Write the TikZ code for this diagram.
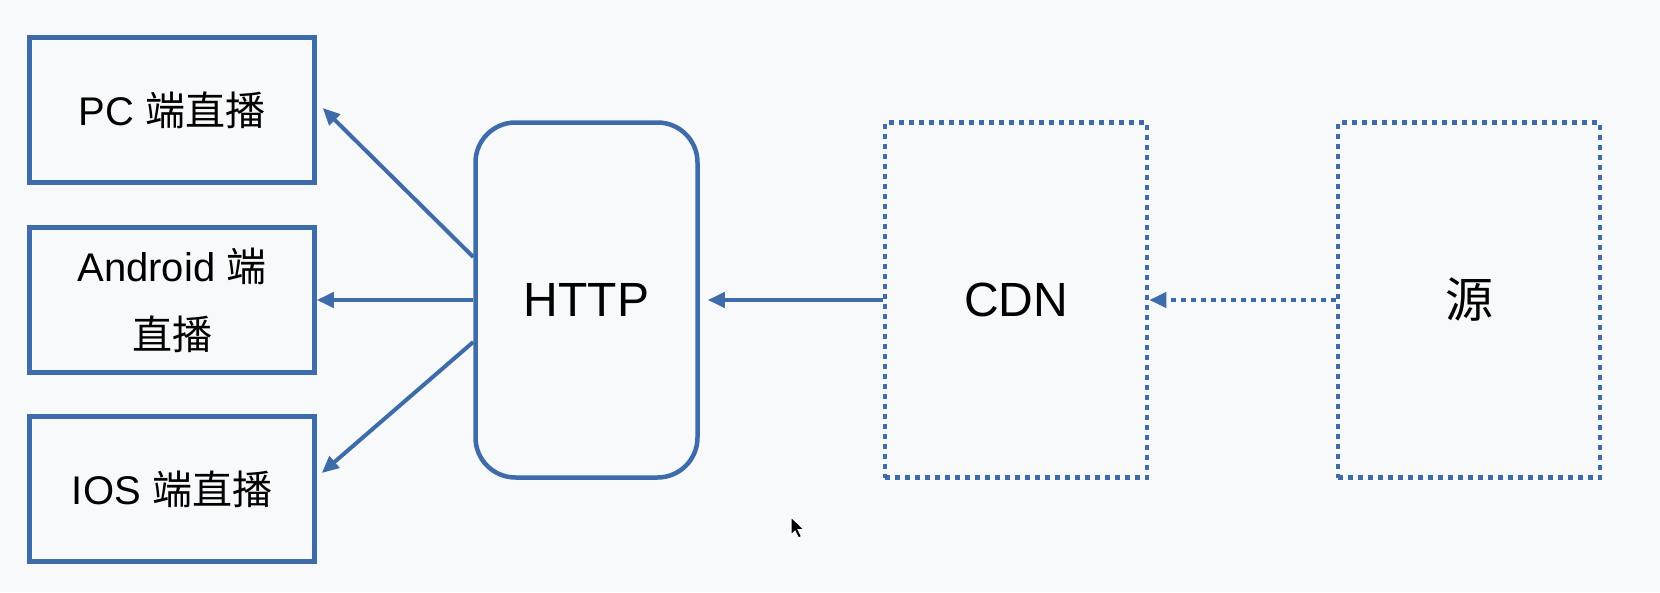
\documentclass[tikz,border=0pt]{standalone}
\usepackage{fontspec}
\setmainfont{Liberation Sans}
\newfontfamily\cjk{Noto Sans CJK SC}
\usetikzlibrary{arrows.meta,calc}
\definecolor{bg}{RGB}{248,249,250}
\definecolor{ln}{RGB}{62,108,170}
\tikzset{
  clientbox/.style={draw=ln, line width=4.5pt, minimum width=285pt, minimum height=145pt,
    inner sep=0pt, align=center, font=\fontsize{40}{68}\selectfont},
  bigbox/.style={draw=ln, line width=4.5pt, minimum width=262pt, minimum height=355pt,
    inner sep=0pt, align=center, font=\fontsize{48}{56}\selectfont},
  dotbox/.style={bigbox, dash pattern=on 5pt off 5pt},
  conn/.style={draw=ln, line width=4pt, -{Triangle[length=17pt,width=15pt]}},
  dotconn/.style={conn, dash pattern=on 5pt off 5pt}
}
\begin{document}
\begin{tikzpicture}[x=1pt,y=-1pt]
\useasboundingbox (0,0) rectangle (1660,592);
\fill[bg] (0,0) rectangle (1660,592);

\node[clientbox] (pc) at (172,110) {PC {\cjk 端直播}};
\node[clientbox] (android) at (172,300) {Android {\cjk 端}\\{\cjk 直播}};
\node[clientbox] (ios) at (172,489) {IOS {\cjk 端直播}};

\node[bigbox, minimum width=222pt, rounded corners=40pt] (http) at (586.5,300) {HTTP};
\node[dotbox] (cdn) at (1016,300) {CDN};
\node[dotbox] (src) at (1469,300) {\cjk 源};

\coordinate (h1) at ($(http.west)+(0,-43)$);
\coordinate (h3) at ($(http.west)+(0,42)$);
\coordinate (pcend) at ($(pc.east)+(6,-2)$);
\coordinate (iosend) at ($(ios.east)+(5,-16)$);

\draw[conn] (h1) -- (pcend);
\draw[conn] (http.west) -- (android.east);
\draw[conn] (h3) -- (iosend);
\draw[conn, shorten >=8pt] (cdn.west) -- (http.east);
\draw[dotconn] (src.west) -- (cdn.east);

% mouse cursor
\filldraw[fill=black, draw=white, line width=1pt] (791,517) -- ++(0,18) -- ++(4,-4) -- ++(3.5,7) -- ++(3,-1.5) -- ++(-3.5,-7) -- ++(6,0) -- cycle;
\end{tikzpicture}
\end{document}
